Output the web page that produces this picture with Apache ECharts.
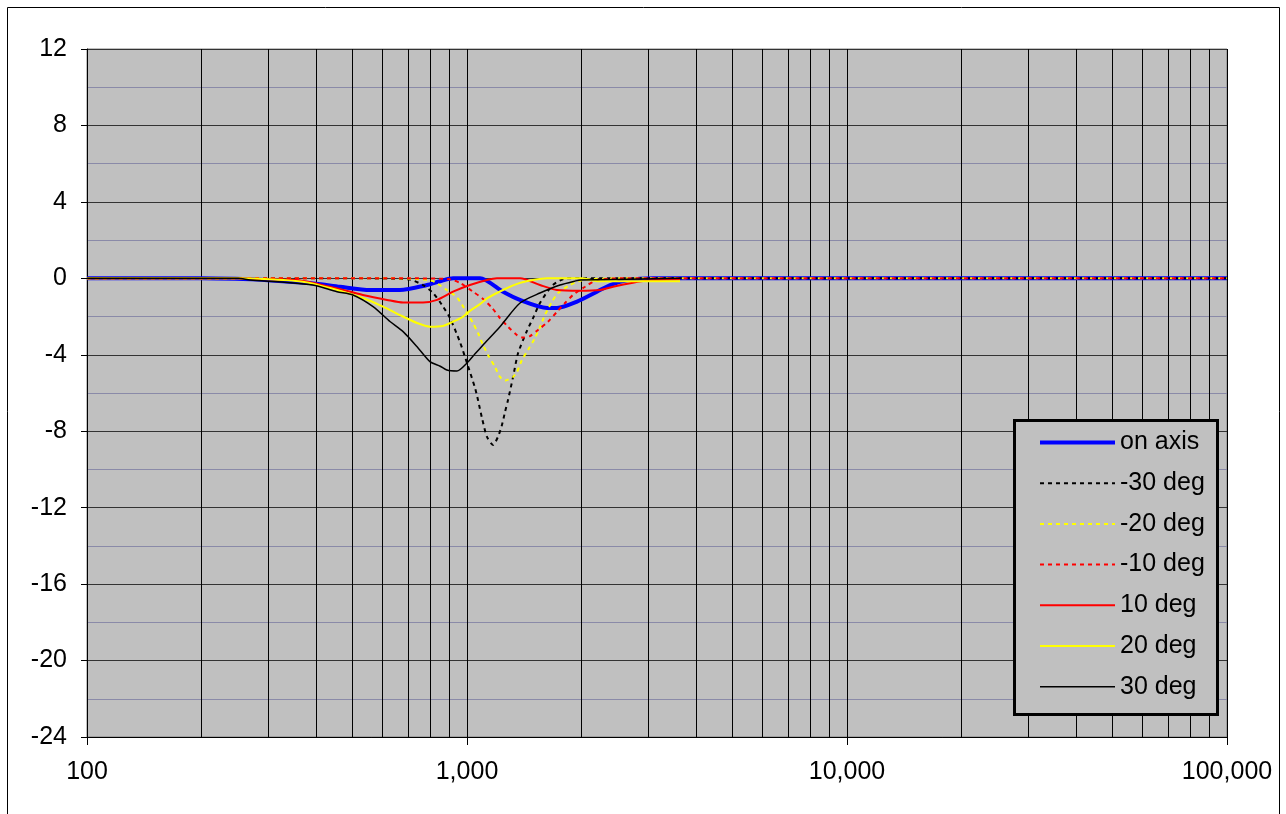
<!DOCTYPE html>
<html>
<head>
<meta charset="utf-8">
<script src="https://cdn.jsdelivr.net/npm/echarts@6/dist/echarts.min.js"></script>
<style>html,body{margin:0;padding:0;background:#fff}#c{width:1286px;height:814px}</style>
</head>
<body>
<div id="c"></div>
<script>
// ---- data (frequency in Hz, level in dB) ----
const seriesNames = ['on axis', '-30 deg', '-20 deg', '-10 deg', '10 deg', '20 deg', '30 deg'];

const onAxisF = [100, 200, 270, 300, 356, 400, 463, 556, 666, 785, 849, 919, 1082, 1244, 1378, 1624, 1725, 1948, 2198, 2379, 2637, 3086, 5000, 10000, 100000];
const onAxisV = [0, 0, -0.05, -0.1, -0.2, -0.28, -0.44, -0.61, -0.61, -0.35, -0.15, 0, 0, -0.7, -1.13, -1.55, -1.55, -1.22, -0.7, -0.35, -0.1, 0, 0, 0, 0];

const m30F = [100, 300, 500, 700, 766, 814, 860, 902, 958, 1000, 1050, 1069, 1095, 1129, 1171, 1206, 1236, 1259, 1282, 1322, 1363, 1438, 1492, 1556, 1683, 1833, 2000, 100000];
const m30V = [0, 0, 0, -0.05, -0.35, -0.77, -1.40, -2.08, -3.33, -4.43, -5.74, -6.37, -7.31, -8.30, -8.72, -8.30, -7.67, -6.99, -6.37, -5.16, -3.91, -2.75, -2.08, -1.29, -0.35, 0, 0, 0];

const m20F = [100, 300, 600, 800, 885, 941, 1000, 1037, 1069, 1102, 1136, 1185, 1221, 1259, 1282, 1322, 1354, 1395, 1447, 1510, 1556, 1604, 1674, 1736, 1866, 2020, 2500, 100000];
const m20V = [0, 0, 0, -0.1, -0.61, -1.0, -1.81, -2.34, -2.86, -3.49, -4.01, -4.64, -5.16, -5.35, -5.3, -5.16, -4.90, -4.27, -3.75, -3.12, -2.55, -1.92, -1.22, -0.77, -0.35, -0.09, 0, 0];

const m10F = [100, 300, 700, 900, 958, 1037, 1102, 1164, 1221, 1282, 1354, 1405, 1465, 1538, 1634, 1725, 1811, 1901, 2045, 2198, 2600, 100000];
const m10V = [0, 0, 0, -0.05, -0.24, -0.70, -1.08, -1.55, -2.08, -2.53, -2.97, -3.10, -3.02, -2.70, -2.27, -1.75, -1.29, -0.87, -0.44, -0.09, 0, 0];

const p10F = [100, 250, 300, 357, 436, 532, 616, 679, 766, 834, 919, 1018, 1129, 1199, 1379, 1556, 1725, 1984, 2239, 2423, 2733, 2978, 3636];
const p10V = [0, 0, -0.05, -0.09, -0.44, -0.87, -1.13, -1.27, -1.27, -1.13, -0.70, -0.35, -0.09, 0, 0, -0.35, -0.61, -0.65, -0.61, -0.44, -0.23, -0.12, -0.05];

const p20F = [100, 250, 300, 370, 455, 532, 601, 666, 739, 799, 865, 919, 977, 1018, 1082, 1129, 1244, 1379, 1492, 1624, 2000, 2200, 3636];
const p20V = [0, 0, -0.05, -0.18, -0.61, -1.03, -1.48, -1.92, -2.34, -2.53, -2.49, -2.27, -2.0, -1.7, -1.35, -1.05, -0.61, -0.24, -0.09, 0, 0, -0.15, -0.15];

const p30F = [100, 250, 269, 330, 393, 455, 501, 566, 627, 679, 739, 799, 850, 885, 941, 1000, 1050, 1102, 1221, 1379, 1556, 1757, 1948, 1984, 3636];
const p30V = [0, 0, -0.09, -0.2, -0.35, -0.70, -0.87, -1.48, -2.26, -2.79, -3.58, -4.36, -4.6, -4.80, -4.85, -4.43, -3.95, -3.49, -2.53, -1.29, -0.77, -0.35, -0.12, -0.09, 0];

const xMinorGrid = [200, 300, 400, 500, 600, 700, 800, 900, 2000, 3000, 4000, 5000, 6000, 7000, 8000, 9000, 20000, 30000, 40000, 50000, 60000, 70000, 80000, 90000];
const yTicks = { min: -24, max: 12, interval: 4 };

// ---- chart ----
function pairs(f, v) { return f.map((x, i) => [x, v[i]]); }
function fmt(n) { return String(Math.round(n)).replace(/\B(?=(\d{3})+(?!\d))/g, ','); }

const chart = echarts.init(document.getElementById('c'), null, { renderer: 'canvas' });
const FONT = 'Liberation Sans, Arial, sans-serif';

const styles = [
  { color: '#0000FF', width: 4, type: 'solid', z: 2 },
  { color: '#000000', width: 2, type: [4, 4], z: 3 },
  { color: '#FFFF00', width: 2, type: [4, 4], z: 3 },
  { color: '#FF0000', width: 2, type: [4, 4], z: 3 },
  { color: '#FF0000', width: 2, type: 'solid', z: 3 },
  { color: '#FFFF00', width: 2, type: 'solid', z: 3 },
  { color: '#000000', width: 1.5, type: 'solid', z: 3 }
];
const dataF = [onAxisF, m30F, m20F, m10F, p10F, p20F, p30F];
const dataV = [onAxisV, m30V, m20V, m10V, p10V, p20V, p30V];

const series = seriesNames.map((name, i) => ({
  name: name, type: 'line', data: pairs(dataF[i], dataV[i]), symbol: 'none', smooth: 0.25,
  lineStyle: { color: styles[i].color, width: styles[i].width, type: styles[i].type },
  itemStyle: { color: styles[i].color }, z: styles[i].z, silent: true
}));
series[0].markLine = {
  silent: true, symbol: 'none', z: 1, animation: false,
  label: { show: false },
  lineStyle: { color: '#000', width: 1, type: 'solid' },
  emphasis: { disabled: true },
  data: xMinorGrid.map(x => ({ xAxis: x }))
};

chart.setOption({
  animation: false,
  backgroundColor: '#ffffff',
  textStyle: { fontFamily: FONT },
  grid: { left: 87, right: 59, top: 49, bottom: 77, show: true, backgroundColor: '#C0C0C0', borderColor: '#808080', borderWidth: 1 },
  xAxis: {
    type: 'log', logBase: 10, min: 100, max: 100000,
    axisLine: { show: true, onZero: false, lineStyle: { color: '#000', width: 1 } },
    axisTick: { show: true, length: 8, lineStyle: { color: '#000' } },
    axisLabel: { margin: 23, fontSize: 25, color: '#000', fontFamily: FONT, formatter: v => fmt(v) },
    splitLine: { show: true, lineStyle: { color: '#000', width: 1 } }
  },
  yAxis: {
    type: 'value', min: yTicks.min, max: yTicks.max, interval: yTicks.interval,
    axisLine: { show: true, lineStyle: { color: '#000', width: 1 } },
    axisTick: { show: true, length: 6, lineStyle: { color: '#000' } },
    axisLabel: { margin: 20, fontSize: 25, color: '#000', fontFamily: FONT },
    splitLine: { show: true, lineStyle: { color: '#333333', width: 1 } },
    minorTick: { show: false, splitNumber: 2 },
    minorSplitLine: { show: true, lineStyle: { color: '#8A8AA8', width: 1 } }
  },
  legend: {
    orient: 'vertical', left: 1038, top: 430, padding: 0,
    itemWidth: 75, itemHeight: 20, itemGap: 15.7, z: 10,
    itemStyle: { opacity: 0, borderWidth: 0 },
    textStyle: { fontSize: 25, color: '#000', fontFamily: FONT, lineHeight: 20 },
    data: seriesNames.map((name, i) => ({
      name: name,
      itemStyle: { opacity: 0, borderWidth: 0 },
      lineStyle: { color: styles[i].color, width: styles[i].width, type: styles[i].type }
    })),
    selectedMode: false
  },
  graphic: [
    { type: 'rect', z: 0, silent: true, shape: { x: 7.5, y: 7.5, width: 1272, height: 830 }, style: { fill: 'none', stroke: '#000', lineWidth: 1 } },
    { type: 'rect', z: 9, silent: true, shape: { x: 1014.5, y: 420.5, width: 203, height: 294 }, style: { fill: '#C0C0C0', stroke: '#000', lineWidth: 3 } }
  ],
  series: series
});
</script>
</body>
</html>
